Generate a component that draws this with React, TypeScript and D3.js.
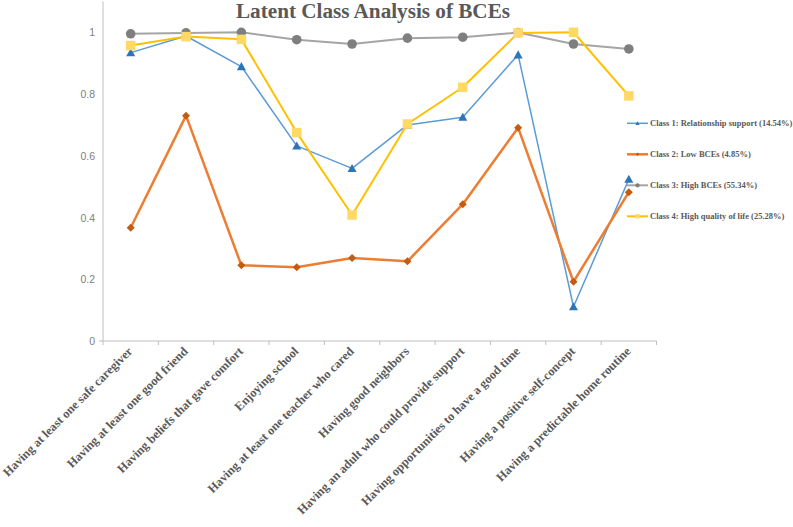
import React from "react";
import * as d3 from "d3";

const categories = [
  "Having at least one safe caregiver",
  "Having at least one good friend",
  "Having beliefs that gave comfort",
  "Enjoying school",
  "Having at least one teacher who cared",
  "Having good neighbors",
  "Having an adult who could provide support",
  "Having opportunities to have a good time",
  "Having a positive self-concept",
  "Having a predictable home routine",
];

const class1 = [0.934, 0.988, 0.889, 0.632, 0.559, 0.7, 0.725, 0.927, 0.111, 0.524];
const class2 = [0.367, 0.73, 0.245, 0.239, 0.269, 0.258, 0.443, 0.691, 0.192, 0.482];
const class3 = [0.995, 0.998, 1.0, 0.976, 0.962, 0.981, 0.984, 0.999, 0.962, 0.946];
const class4 = [0.957, 0.986, 0.977, 0.675, 0.408, 0.703, 0.822, 0.998, 1.0, 0.794];

const seriesNames = [
  "Class 1: Relationship support (14.54%)",
  "Class 2: Low BCEs (4.85%)",
  "Class 3: High BCEs (55.34%)",
  "Class 4: High quality of life (25.28%)",
];

const yTicks = [0, 0.2, 0.4, 0.6, 0.8, 1];

const series = [
  { name: seriesNames[0], values: class1, line: "#5B9BD5", marker: "#2E75B6", width: 1.5, shape: "triangle" },
  { name: seriesNames[1], values: class2, line: "#ED7D31", marker: "#C55A11", width: 2.5, shape: "diamond" },
  { name: seriesNames[2], values: class3, line: "#A5A5A5", marker: "#7F7F7F", width: 2, shape: "circle" },
  { name: seriesNames[3], values: class4, line: "#FFC000", marker: "#FFD966", width: 2, shape: "square" },
];

function Marker({ shape, x, y, color, scale = 1 }: any) {
  if (shape === "circle") return <circle cx={x} cy={y} r={4.8 * scale} fill={color} />;
  if (shape === "square") {
    const s = 9.5 * scale;
    return <rect x={x - s / 2} y={y - s / 2} width={s} height={s} fill={color} />;
  }
  if (shape === "triangle") {
    const s = 4.5 * scale;
    return <path d={`M${x},${y - s}L${x + s},${y + s * 0.8}L${x - s},${y + s * 0.8}Z`} fill={color} />;
  }
  const s = 4 * scale;
  return <path d={`M${x},${y - s}L${x + s},${y}L${x},${y + s}L${x - s},${y}Z`} fill={color} />;
}

export default function App() {
  const W = 793, H = 527;
  const left = 103, right = 656.5, top = 1.4, bottom = 341;
  const x = d3.scaleBand<string>().domain(categories).range([left, right]);
  const y = d3.scaleLinear().domain([0, 1.1]).range([bottom, top]);
  const cx = (c: string) => (x(c) as number) + x.bandwidth() / 2;
  const line = d3.line<number>().x((_, i) => cx(categories[i])).y((v) => y(v));
  const axisColor = "#BFBFBF";
  const legendY = d3.scaleLinear().domain([0, 3]).range([123.3, 216.3]);
  const serif = "'Liberation Serif', 'Times New Roman', serif";

  return (
    <svg width={W} height={H} style={{ position: "absolute", left: 0, top: 0, background: "#fff" }}>
      <text x={373} y={18} textAnchor="middle" fontFamily={serif} fontWeight="bold" fontSize={20} fill="#595959" textLength={274} lengthAdjust="spacingAndGlyphs">
        Latent Class Analysis of BCEs
      </text>
      {/* y axis */}
      <line x1={left} x2={left} y1={top} y2={bottom} stroke={axisColor} strokeWidth={1} />
      <line x1={left - 4} x2={left} y1={bottom} y2={bottom} stroke={axisColor} strokeWidth={1} />
      {yTicks.map((t) => (
        <text key={t} x={95} y={y(t) + 4} textAnchor="end" fontFamily="'Liberation Sans', Arial, sans-serif" fontSize={10.5} fill="#808080">
          {String(t)}
        </text>
      ))}
      {/* x axis */}
      <line x1={left} x2={right} y1={bottom} y2={bottom} stroke={axisColor} strokeWidth={1} />
      {[...categories.map((c) => x(c) as number), right].map((v, i) => (
        <line key={i} x1={v} x2={v} y1={bottom} y2={bottom + 4} stroke={axisColor} strokeWidth={1} />
      ))}
      {categories.map((c) => (
        <text
          key={c}
          transform={`translate(${cx(c) + 2.5},${bottom + 11}) rotate(-45)`}
          textAnchor="end"
          fontFamily={serif}
          fontWeight="bold"
          fontSize={12.4}
          fill="#595959"
        >
          {c}
        </text>
      ))}
      {series.map((s) => (
        <g key={s.name}>
          <path d={line(s.values) as string} fill="none" stroke={s.line} strokeWidth={s.width} strokeLinejoin="round" />
          {s.values.map((v, i) => (
            <Marker key={i} shape={s.shape} x={cx(categories[i])} y={y(v)} color={s.marker} />
          ))}
        </g>
      ))}
      {series.map((s, i) => (
        <g key={"lg" + i}>
          <line x1={627} x2={648} y1={legendY(i)} y2={legendY(i)} stroke={s.line} strokeWidth={s.width} />
          <Marker shape={s.shape} x={637.5} y={legendY(i)} color={s.marker} scale={0.45} />
          <text x={650} y={legendY(i) + 3} fontFamily={serif} fontWeight="bold" fontSize={8.5} fill="#595959">
            {s.name}
          </text>
        </g>
      ))}
    </svg>
  );
}
